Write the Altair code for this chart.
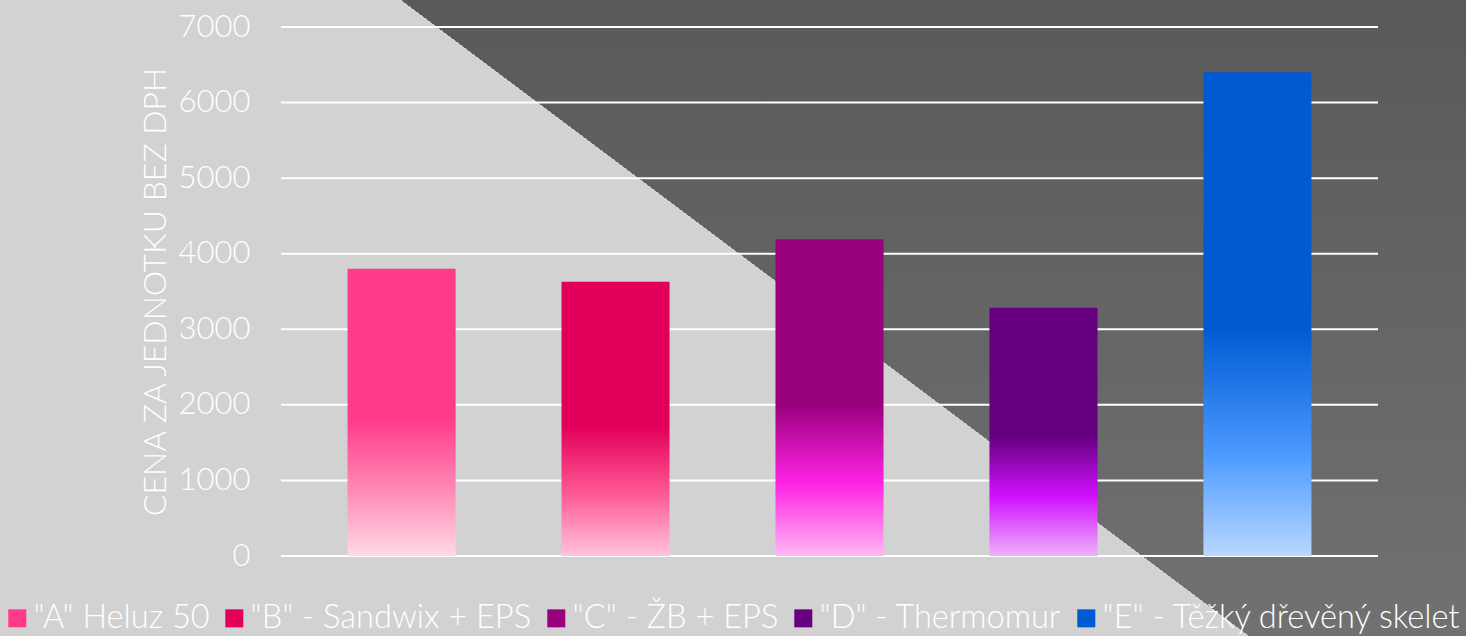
import altair as alt
import pandas as pd

# ---------------- data ----------------
categories = ['"A" Heluz 50', '"B" - Sandwix + EPS', '"C" - ŽB + EPS',
              '"D" - Thermomur', '"E" - Těžký dřevěný skelet']
values = [3800, 3630, 4190, 3285, 6400]
tick_values = [0, 1000, 2000, 3000, 4000, 5000, 6000, 7000]
y_title = "CENA ZA JEDNOTKU BEZ DPH"

# solid (top) colour of each bar, used for the legend swatches
top_colors = ["#FF3A89", "#E2005A", "#98007C", "#660080", "#005AD2"]
# vertical gradient stops of each bar (offset 0 = top of the bar)
bar_stops = [
    [("#FF3A89", 0.0), ("#FF3A89", 0.52), ("#FF8CB7", 0.78), ("#FFDAE8", 1.0)],
    [("#E2005A", 0.0), ("#E2005A", 0.53), ("#FF5C96", 0.78), ("#FFC4DC", 1.0)],
    [("#98007C", 0.0), ("#98007C", 0.52), ("#FF22E4", 0.77), ("#FFB8F4", 1.0)],
    [("#660080", 0.0), ("#660080", 0.52), ("#D010FF", 0.76), ("#EDB2F8", 1.0)],
    [("#005AD2", 0.0), ("#005AD2", 0.53), ("#4C9AFF", 0.79), ("#BAD7FF", 1.0)],
]

FONT = "Lato"
W, H = 1097, 529
LEFT, TOP = 281, 27
PAGE_W, PAGE_H = 1466, 636

df = pd.DataFrame({"cat": categories, "val": values})
grid_df = pd.DataFrame({"v": tick_values})
one = pd.DataFrame({"k": [0]})

x_scale = alt.Scale(domain=categories, paddingInner=0.495, paddingOuter=0.311)
y_scale = alt.Scale(domain=[0, 7000], nice=False)
y_axis = alt.Axis(values=tick_values, format="d", grid=False, ticks=False,
                  domain=False, zindex=1,
                  labelColor="white", labelFont=FONT, labelFontSize=31,
                  labelFontWeight=300, labelPadding=31,
                  titleColor="white", titleFont=FONT, titleFontSize=32,
                  titleFontWeight=300, titlePadding=6)


def Y(field):
    return alt.Y(field, scale=y_scale, axis=y_axis, title=y_title)


# hidden layer carrying the legend (covered by the background)
legend_layer = alt.Chart(df).mark_bar().encode(
    x=alt.X("cat:N", scale=x_scale, axis=None),
    y=Y("val:Q"),
    color=alt.Color("cat:N", scale=alt.Scale(domain=categories, range=top_colors),
                    legend=alt.Legend(orient="none", legendX=-280, legendY=575,
                                      direction="horizontal", columns=5, title=None,
                                      labelColor="white", labelFont=FONT,
                                      labelFontSize=32.6, labelFontWeight=300,
                                      labelLimit=800, labelOffset=0,
                                      symbolType="square", symbolSize=324,
                                      symbolStrokeWidth=0, symbolOpacity=1,
                                      columnPadding=8, padding=0)),
)

# page background: dark vertical gradient + light diagonal half
bg_dark = alt.Chart(one).mark_rect(
    color=alt.Gradient(gradient="linear",
                       stops=[alt.GradientStop(color="#595959", offset=0),
                              alt.GradientStop(color="#717171", offset=1)],
                       x1=0, x2=0, y1=0, y2=1)
).encode(x=alt.value(-LEFT), x2=alt.value(PAGE_W - LEFT),
         y=alt.value(-TOP), y2=alt.value(PAGE_H - TOP))

bg_light = alt.Chart(one).mark_rect(
    color=alt.Gradient(gradient="linear",
                       stops=[alt.GradientStop(color="#D2D2D2", offset=0),
                              alt.GradientStop(color="#D2D2D2", offset=0.5),
                              alt.GradientStop(color="rgba(210,210,210,0)", offset=0.5),
                              alt.GradientStop(color="rgba(210,210,210,0)", offset=1)],
                       x1=0.3128, y1=0.6446, x2=0.8128, y2=0.3554)
).encode(x=alt.value(-LEFT), x2=alt.value(PAGE_W - LEFT),
         y=alt.value(-TOP), y2=alt.value(PAGE_H - TOP))

grid = alt.Chart(grid_df).mark_rule(color="white", strokeWidth=2).encode(
    y=Y("v:Q"), x=alt.value(0), x2=alt.value(W)
)

bars = []
for cat, stops in zip(categories, bar_stops):
    grad = alt.Gradient(gradient="linear",
                        stops=[alt.GradientStop(color=c, offset=o) for c, o in stops],
                        x1=0, x2=0, y1=0, y2=1)
    bars.append(
        alt.Chart(df).mark_bar(color=grad).encode(
            x=alt.X("cat:N", scale=x_scale, axis=None),
            y=Y("val:Q"),
        ).transform_filter(alt.datum.cat == cat)
    )

chart = alt.layer(legend_layer, bg_dark, bg_light, grid, *bars).properties(
    width=W, height=H,
    autosize=alt.AutoSizeParams(type="none"),
    padding={"left": LEFT, "top": TOP, "right": PAGE_W - LEFT - W,
             "bottom": PAGE_H - TOP - H},
).configure(background="#D2D2D2").configure_view(stroke=None)

chart.save("out.html", embed_options={"renderer": "svg", "actions": False})
